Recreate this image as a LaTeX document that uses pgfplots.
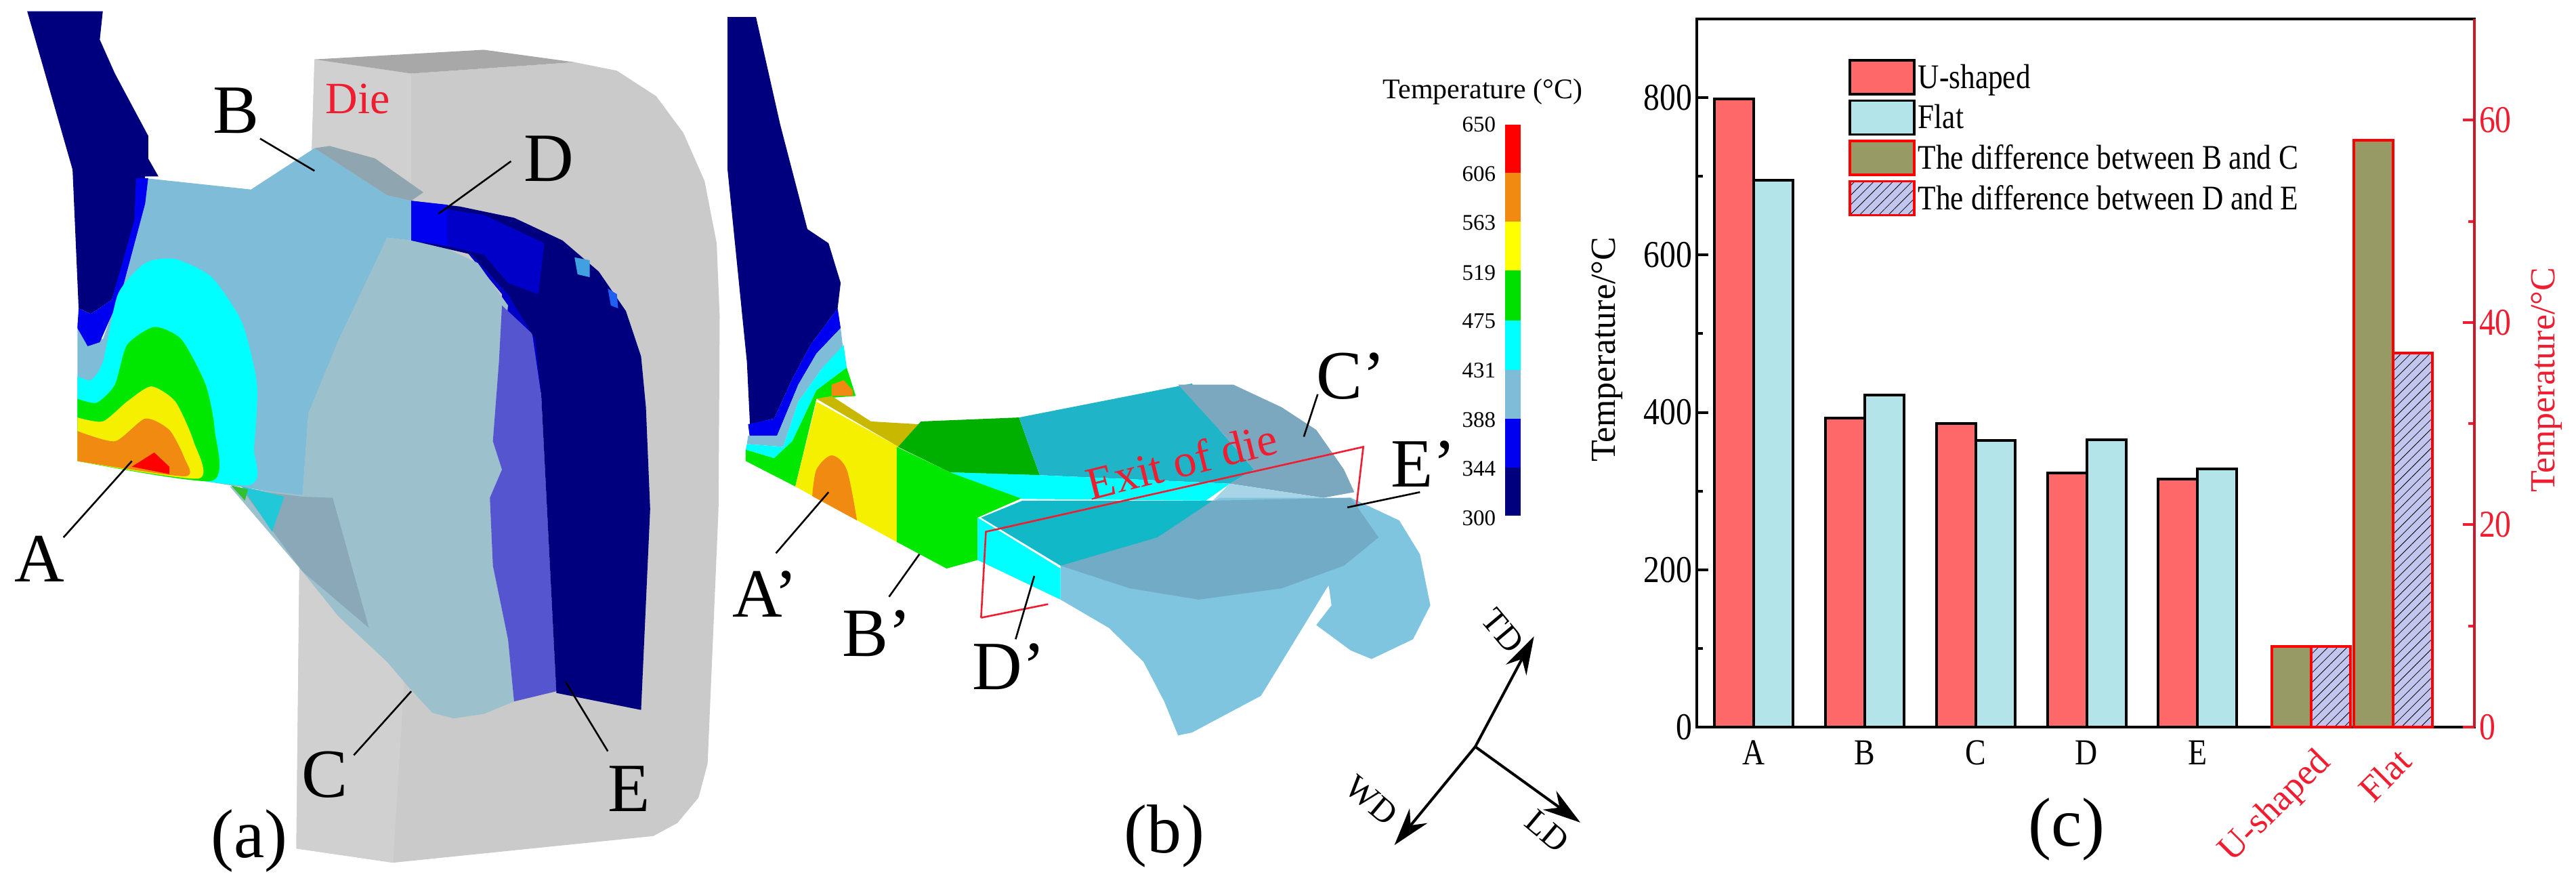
\documentclass[border=0pt]{standalone}
\usepackage{fontspec}
\setmainfont[FakeStretch=0.85]{Liberation Serif}
\newfontfamily\plainrm{Liberation Serif}
\usepackage{pgfplots}
\pgfplotsset{compat=1.18}
\usetikzlibrary{patterns.meta,arrows.meta}
\definecolor{cNavy}{HTML}{00007F}
\definecolor{cBlue}{HTML}{0000F0}
\definecolor{cLB}{HTML}{7FBCD8}
\definecolor{cCy}{HTML}{00FFFF}
\definecolor{cGr}{HTML}{00E800}
\definecolor{cYe}{HTML}{F4F000}
\definecolor{cOr}{HTML}{F08A10}
\definecolor{cRe}{HTML}{FF0000}
\definecolor{cDie}{HTML}{CACACA}
\definecolor{cUb}{HTML}{FF6868}
\definecolor{cFb}{HTML}{B2E4EA}
\definecolor{cOl}{HTML}{989A66}
\definecolor{cHa}{HTML}{C2C6EE}
\definecolor{cRd}{HTML}{F01C30}
\definecolor{cD2}{HTML}{D0D0D0}
\definecolor{cA8}{HTML}{A8A8A8}
\definecolor{cS1}{HTML}{9CC0CC}
\definecolor{cS2}{HTML}{8AA8B8}
\definecolor{cS3}{HTML}{20C8D8}
\definecolor{cS4}{HTML}{30C030}
\definecolor{cS5}{HTML}{8FA6B0}
\definecolor{cS6}{HTML}{5555D0}
\definecolor{cS7}{HTML}{0000C8}
\definecolor{cS8}{HTML}{40A0E0}
\definecolor{cS9}{HTML}{2060F0}
\definecolor{cT1}{HTML}{C8B800}
\definecolor{cT2}{HTML}{00B000}
\definecolor{cT3}{HTML}{20B4C8}
\definecolor{cT4}{HTML}{7CA8BF}
\definecolor{cT5}{HTML}{A8D4E8}
\definecolor{cT6}{HTML}{7FC5E0}
\definecolor{cT7}{HTML}{72ABC6}
\definecolor{cT8}{HTML}{10B8C8}
\definecolor{cT9}{HTML}{FFFF00}
\definecolor{cT0}{HTML}{00E000}
\newcommand\poly[3][]{\addplot[fill=#2,draw=none,#1] coordinates {#3};}
\newcommand\lead[1]{\addplot[black,line width=1.3pt] coordinates {#1};}
\newcommand\lblfont{\plainrm\fontsize{51}{53}\selectfont}
\begin{document}
\begin{tikzpicture}[x=1pt,y=1pt]
\path[use as bounding box] (0,0) rectangle (1901.5,654.5);
% ---------- panel a (and left part of b)
\begin{axis}[at={(0,0)},anchor=south west,scale only axis,width=700pt,height=654.5pt,
  xmin=0,xmax=1568,ymin=0,ymax=1568,y dir=reverse,hide axis,clip=false]
\poly{cDie}{(520,105)(680,130)(950,110)(1020,125)(1085,170)(1130,235)(1165,320)(1185,430)(1190,560)(1188,900)(1170,1350)(1155,1410)(1120,1455)(1080,1478)(650,1525)(490,1500)(495,1000)}
\poly{cD2}{(520,105)(680,130)(680,1000)(650,1525)(490,1500)(495,1000)}
\poly{cA8}{(520,105)(800,88)(950,110)(680,130)}
\poly{cNavy}{(45,20)(170,20)(165,70)(190,130)(245,240)(245,280)(262,312)(240,312)(222,400)(185,530)(150,555)(130,545)(120,300)}
\poly{cLB}{(240,315)(415,335)(520,262)(640,345)(680,355)(680,425)(640,420)(510,730)(500,878)(128,815)(128,570)(170,600)(210,480)}
\poly{cBlue}{(225,315)(245,315)(240,360)(200,520)(165,605)(145,612)(128,580)(130,545)(150,555)(185,530)(222,390)}
\poly[smooth,tension=0.4]{cCy}{(128,665)(150,672)(170,640)(195,520)(240,465)(290,458)(350,490)(400,570)(425,680)(420,790)(408,858)(128,815)}
\poly[smooth,tension=0.4]{cGr}{(128,705)(160,712)(190,680)(210,610)(255,578)(300,600)(340,680)(355,760)(350,850)(128,815)}
\poly[smooth,tension=0.4]{cYe}{(128,738)(170,745)(210,710)(250,683)(290,710)(320,780)(328,846)(128,815)}
\poly[smooth,tension=0.4]{cOr}{(128,762)(190,780)(240,740)(280,760)(305,810)(305,842)(128,815)}
\poly{cRe}{(218,825)(255,800)(280,825)(280,838)}
\poly{cS7}{(760,430)(800,440)(880,540)(900,700)(830,620)(830,520)}
\poly{cS1}{(640,420)(720,430)(790,465)(840,540)(830,640)(815,780)(830,830)(810,880)(815,1000)(840,1130)(850,1240)(800,1262)(750,1270)(715,1260)(680,1220)(640,1170)(560,1090)(500,1010)(380,860)(500,875)(510,730)(560,600)}
\poly{cS2}{(400,865)(500,878)(550,880)(610,1110)(500,1010)}
\poly{cS3}{(400,860)(470,878)(450,940)}
\poly{cS4}{(382,858)(410,865)(405,885)}
\poly{cS5}{(520,262)(545,258)(620,280)(700,340)(680,355)(640,345)}
\poly{cS6}{(830,540)(880,590)(895,700)(920,1222)(850,1240)(840,1130)(815,1000)(810,880)(830,830)(815,780)(825,640)}
\poly{cNavy}{(680,355)(760,365)(850,385)(930,425)(990,480)(1035,550)(1060,630)(1068,720)(1075,900)(1060,1255)(920,1225)(895,700)(885,600)(840,520)(780,450)(680,425)}
\poly{cS7}{(740,370)(800,380)(900,430)(890,520)(840,500)(800,450)(740,435)}
\poly{cBlue}{(680,355)(740,362)(740,435)(680,425)}
\poly{cS8}{(950,455)(975,460)(975,490)(955,485)}
\poly{cS9}{(1005,510)(1020,520)(1022,545)(1010,540)}
\lead{(105,950)(218,815)}
\lead{(430,245)(520,302)}
\lead{(585,1335)(680,1222)}
\lead{(845,285)(725,378)}
\lead{(1005,1328)(935,1205)}
\node[font=\lblfont] at (axis cs:65,988) {A};
\node[font=\lblfont] at (axis cs:390,195) {B};
\node[font=\lblfont] at (axis cs:537,1370) {C};
\node[font=\lblfont] at (axis cs:908,280) {D};
\node[font=\lblfont] at (axis cs:1040,1395) {E};
\node[font=\lblfont] at (axis cs:412,1487) {(a)};
\node[font=\plainrm\fontsize{33}{35}\selectfont,text=cRd] at (axis cs:592,175) {Die};
% left part of b
\poly{cNavy}{(1203,30)(1250,30)(1290,220)(1335,405)(1370,430)(1390,500)(1385,545)(1340,610)(1310,670)(1280,740)(1240,750)(1235,640)(1203,300)}
\poly{cBlue}{(1385,545)(1390,580)(1350,625)(1320,680)(1285,770)(1240,775)(1237,750)(1280,740)(1310,670)(1340,610)}
\poly{cLB}{(1390,580)(1395,625)(1360,650)(1320,710)(1295,790)(1235,785)(1237,770)(1285,770)(1320,680)(1350,625)}
\poly{cCy}{(1395,610)(1400,650)(1350,690)(1310,780)(1280,810)(1233,795)(1235,785)(1295,790)(1320,710)(1360,650)}
\poly{cGr}{(1233,795)(1280,810)(1310,780)(1350,690)(1400,650)(1415,700)(1350,705)(1315,860)(1233,815)}
\poly{cOr}{(1375,680)(1395,672)(1410,690)(1410,700)(1375,700)}
\poly{cYe}{(1350,710)(1486,790)(1486,960)(1315,860)}
\poly[smooth,tension=0.5]{cOr}{(1343,877)(1350,830)(1375,805)(1400,830)(1417,920)}
\poly{cT1}{(1350,705)(1375,700)(1440,745)(1520,750)(1500,785)(1486,790)}
\lead{(1283,978)(1370,870)}
\lead{(1470,1055)(1548,938)}
\node[font=\lblfont] at (axis cs:1265,1050) {A’};
\node[font=\lblfont] at (axis cs:1450,1120) {B’};
\end{axis}
% ---------- panel b right part
\begin{axis}[at={(640pt,0)},anchor=south west,scale only axis,width=800pt,height=654.5pt,
  xmin=0,xmax=1568,ymin=0,ymax=1568,y dir=reverse,hide axis,clip=false]
\poly{cT2}{(45,790)(78,745)(220,738)(235,790)(250,840)(120,835)}
\poly{cGr}{(43,790)(120,835)(250,840)(225,880)(160,915)(160,990)(115,1005)(43,958)}
\poly{cT3}{(220,738)(470,678)(510,760)(560,830)(525,855)(250,840)(235,790)}
\poly{cCy}{(120,835)(250,840)(525,855)(490,885)(225,882)}
\poly{cT4}{(450,680)(530,680)(600,720)(650,760)(690,830)(705,870)(660,880)(525,855)(560,830)(510,760)}
\poly{cT5}{(525,855)(660,880)(500,885)}
\poly{cT6}{(280,1000)(420,950)(510,880)(700,880)(770,920)(800,980)(815,1070)(790,1130)(730,1165)(700,1150)(650,1105)(672,1070)(668,1035)(665,1040)(620,1130)(570,1230)(470,1295)(450,1300)(430,1240)(400,1170)(350,1110)(280,1060)}
\poly{cT7}{(280,1000)(500,885)(700,880)(740,950)(690,1000)(600,1040)(480,1060)(380,1040)}
\poly{cT8}{(165,915)(225,885)(500,885)(420,950)(280,1000)}
\poly{cCy}{(160,915)(280,1005)(280,1060)(160,990)}
\addplot[cRd,line width=1.3pt] coordinates {(165,1092)(172,940)(718,790)(708,895)};
\addplot[cRd,line width=1.3pt] coordinates {(165,1092)(262,1068)};
\lead{(632,772)(652,697)}
\lead{(695,897)(800,870)}
\lead{(215,1130)(242,1018)}
\node[font=\lblfont] at (axis cs:700,665) {C’};
\node[font=\lblfont] at (axis cs:805,820) {E’};
\node[font=\lblfont] at (axis cs:205,1178) {D’};
\node[font=\lblfont] at (axis cs:430,1478) {(b)};
\node[font=\plainrm\fontsize{34}{36}\selectfont,text=cRd,rotate=14] at (axis cs:455,815) {Exit of die};
% direction arrows
\addplot[black,line width=2pt,-{Stealth[length=28pt,width=17pt]}] coordinates {(880,1320)(965,1125)};
\addplot[black,line width=2pt,-{Stealth[length=28pt,width=17pt]}] coordinates {(880,1320)(763,1494)};
\addplot[black,line width=2pt,-{Stealth[length=28pt,width=17pt]}] coordinates {(880,1320)(1032,1454)};
\node[font=\plainrm\fontsize{25}{27}\selectfont,rotate=-50] at (axis cs:920,1115) {TD};
\node[font=\plainrm\fontsize{25}{27}\selectfont,rotate=-40] at (axis cs:730,1415) {WD};
\node[font=\plainrm\fontsize{25}{27}\selectfont,rotate=-40] at (axis cs:984,1469) {LD};
% colour bar
\poly{cRe}{(923,220)(946,220)(946,305)(923,305)}
\poly{cOr}{(923,305)(946,305)(946,392)(923,392)}
\poly{cT9}{(923,392)(946,392)(946,478)(923,478)}
\poly{cT0}{(923,478)(946,478)(946,567)(923,567)}
\poly{cCy}{(923,567)(946,567)(946,654)(923,654)}
\poly{cLB}{(923,654)(946,654)(946,740)(923,740)}
\poly{cBlue}{(923,740)(946,740)(946,826)(923,826)}
\poly{cNavy}{(923,826)(946,826)(946,912)(923,912)}
\node[font=\plainrm\fontsize{16.5}{18}\selectfont,anchor=east,inner sep=0pt] at (axis cs:910,220) {650};
\node[font=\plainrm\fontsize{16.5}{18}\selectfont,anchor=east,inner sep=0pt] at (axis cs:910,307) {606};
\node[font=\plainrm\fontsize{16.5}{18}\selectfont,anchor=east,inner sep=0pt] at (axis cs:910,394) {563};
\node[font=\plainrm\fontsize{16.5}{18}\selectfont,anchor=east,inner sep=0pt] at (axis cs:910,482) {519};
\node[font=\plainrm\fontsize{16.5}{18}\selectfont,anchor=east,inner sep=0pt] at (axis cs:910,568) {475};
\node[font=\plainrm\fontsize{16.5}{18}\selectfont,anchor=east,inner sep=0pt] at (axis cs:910,655) {431};
\node[font=\plainrm\fontsize{16.5}{18}\selectfont,anchor=east,inner sep=0pt] at (axis cs:910,742) {388};
\node[font=\plainrm\fontsize{16.5}{18}\selectfont,anchor=east,inner sep=0pt] at (axis cs:910,829) {344};
\node[font=\plainrm\fontsize{16.5}{18}\selectfont,anchor=east,inner sep=0pt] at (axis cs:910,916) {300};
\node[font=\plainrm\fontsize{21}{23}\selectfont] at (axis cs:891,162) {Temperature (°C)};
\end{axis}
% ---------- chart: left axis
\begin{axis}[at={(1252.5pt,118pt)},anchor=south west,scale only axis,width=574pt,height=522.5pt,
  xmin=-0.512,xmax=6.494,ymin=0,ymax=900,
  ybar,bar width=29pt,
  xtick={0,1,2,3,4},xticklabels={A,B,C,D,E},
  x tick style={draw=none},
  xticklabel style={font=\fontsize{27}{29}\selectfont,yshift=2pt},
  ytick={0,200,400,600,800},minor ytick={100,300,500,700},
  ytick pos=left,ytick align=inside,
  major tick length=8.5pt,minor tick length=4.5pt,
  every tick/.append style={line width=2pt,black},
  axis line style={line width=2pt},
  /pgf/number format/assume math mode=true,
  /pgf/number format/1000 sep={},
  yticklabel style={font=\fontsize{28}{30}\selectfont},
  ylabel={Temperature/°C},
  ylabel style={at={(axis description cs:-0.115,0.533)},anchor=center,font=\plainrm\fontsize{26}{28}\selectfont},
  legend image code/.code={\draw[#1,line width=1.75pt] (0pt,-12.5pt) rectangle (47.5pt,12.5pt);},
  legend style={at={(axis description cs:0.195,0.9435)},anchor=north west,draw=none,fill=none,
    inner sep=0pt,font=\fontsize{25.5}{27}\selectfont,row sep=3pt,
    /tikz/every even column/.append style={column sep=5pt}},
  legend cell align=left,
  legend entries={U-shaped,Flat,The difference between B and C,The difference between D and E},
]
\addplot[fill=cUb,draw=black,line width=2pt,bar shift=-14.5pt] coordinates {(0,798)(1,393)(2,386)(3,323)(4,315)};
\addplot[fill=cFb,draw=black,line width=2pt,bar shift=14.5pt] coordinates {(0,695)(1,422)(2,364)(3,365)(4,328)};
\addlegendimage{fill=cOl,draw=red}
\addlegendimage{fill=cHa,draw=red,postaction={pattern={Lines[angle=45,distance=5pt,line width=0.4pt]}}}
\end{axis}
% ---------- chart: right axis
\begin{axis}[at={(1252.5pt,118pt)},anchor=south west,scale only axis,width=574pt,height=522.5pt,
  xmin=-0.512,xmax=6.494,ymin=0,ymax=70,
  ybar,bar width=29pt,
  axis y line*=right,axis x line*=bottom,
  x axis line style={draw=none},
  y axis line style={draw=cRd!85!black,line width=2pt},
  xtick={5.02,5.76},xticklabels={U-shaped,Flat},
  x tick style={draw=none},
  xticklabel style={font=\plainrm\fontsize{27}{29}\selectfont,text=cRd,rotate=45,anchor=north east,inner sep=2pt,yshift=-3pt},
  ytick={0,20,40,60},minor ytick={10,30,50},
  ytick align=inside,
  major tick length=8.5pt,minor tick length=4.5pt,
  y tick style={line width=2pt,draw=cRd},
  /pgf/number format/assume math mode=true,
  yticklabel style={font=\fontsize{28}{30}\selectfont,text=cRd},
  ylabel={Temperature/°C},
  ylabel style={at={(axis description cs:1.093,0.49)},anchor=center,text=cRd,font=\plainrm\fontsize{26}{28}\selectfont},
  clip=false,
]
\addplot[fill=cOl,draw=red,line width=2pt,bar shift=-14.5pt] coordinates {(5.02,8)(5.76,58)};
\addplot[fill=cHa,draw=red,line width=2pt,bar shift=14.5pt,postaction={pattern={Lines[angle=45,distance=5pt,line width=0.4pt]}}] coordinates {(5.02,8)(5.76,37)};
\node[font=\lblfont] at (axis cs:2.82,-10.1) {(c)};
\end{axis}
\end{tikzpicture}
\end{document}
